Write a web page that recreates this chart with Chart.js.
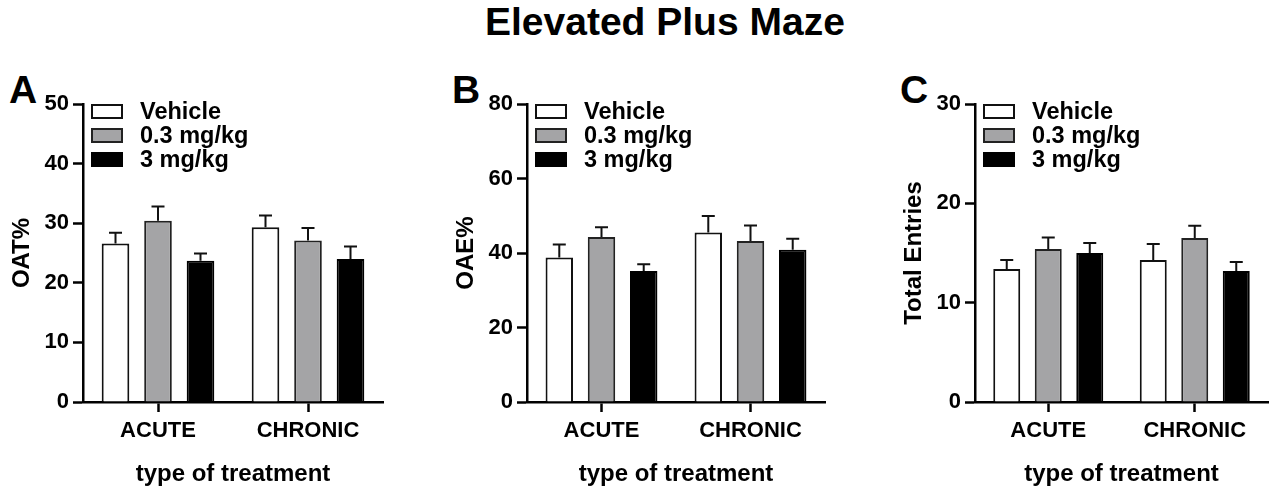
<!DOCTYPE html>
<html>
<head>
<meta charset="utf-8">
<script src="https://cdn.jsdelivr.net/npm/chart.js@4.4.1/dist/chart.umd.min.js"></script>
<style>
  html, body { margin: 0; padding: 0; background: #fff; }
  #wrap { position: relative; width: 1280px; height: 497px; overflow: hidden;
          font-family: "Liberation Sans", Arial, sans-serif; color: #000; }
  canvas { position: absolute; top: 0; }
  .title { position: absolute; left: 485px; top: 2px; font-size: 39px; line-height: 39px;
           font-weight: bold; white-space: nowrap; }
  .panel { position: absolute; top: 70px; font-size: 39px; line-height: 39px; font-weight: bold; }
</style>
</head>
<body>
<div id="wrap">
  <div class="title">Elevated Plus Maze</div>
  <div class="panel" style="left:9px">A</div>
  <div class="panel" style="left:452px">B</div>
  <div class="panel" style="left:900px">C</div>
  <canvas id="chartA" width="430" height="497" style="left:0px"></canvas>
  <canvas id="chartB" width="430" height="497" style="left:430px"></canvas>
  <canvas id="chartC" width="420" height="497" style="left:860px"></canvas>
</div>
<script>
// categories and groups
const categories = ["ACUTE", "CHRONIC"];
const groups = ["Vehicle", "0.3 mg/kg", "3 mg/kg"];

// A - open arm time (%), mean and SEM
const oatVehicle = [26.6, 29.3];
const oatVehicleSem = [1.8, 2.0];
const oatLow = [30.4, 27.1];
const oatLowSem = [2.4, 2.1];
const oatHigh = [23.7, 24.0];
const oatHighSem = [1.2, 2.1];

// B - open arm entries (%)
const oaeVehicle = [38.8, 45.5];
const oaeVehicleSem = [3.5, 4.4];
const oaeLow = [44.3, 43.2];
const oaeLowSem = [2.6, 4.2];
const oaeHigh = [35.2, 40.9];
const oaeHighSem = [1.8, 2.9];

// C - total entries
const totVehicle = [13.4, 14.3];
const totVehicleSem = [0.9, 1.6];
const totLow = [15.4, 16.5];
const totLowSem = [1.15, 1.25];
const totHigh = [15.0, 13.2];
const totHighSem = [1.0, 0.9];

const FONT = '"Liberation Sans", Arial, sans-serif';
const fills = ["#ffffff", "#a4a4a6", "#000000"];
const borders = ["#111111", "#222222", "#000000"];

// draws the upper SEM whisker on top of each bar
const errorBars = {
  id: "errorBars",
  afterDatasetsDraw(chart) {
    const ctx = chart.ctx;
    const yScale = chart.scales.y;
    chart.data.datasets.forEach((ds, i) => {
      chart.getDatasetMeta(i).data.forEach((bar, j) => {
        const top = yScale.getPixelForValue(ds.data[j] + ds.sem[j]);
        ctx.save();
        ctx.strokeStyle = "#111";
        ctx.lineWidth = 2;
        ctx.beginPath();
        ctx.moveTo(bar.x, bar.y);
        ctx.lineTo(bar.x, top);
        ctx.moveTo(bar.x - 6.5, top);
        ctx.lineTo(bar.x + 6.5, top);
        ctx.stroke();
        ctx.restore();
      });
    });
  }
};

// legend inside the plot, top left
const boxLegend = {
  id: "boxLegend",
  afterDraw(chart) {
    const { ctx, chartArea } = chart;
    ctx.save();
    ctx.font = "bold 23.5px " + FONT;
    ctx.textBaseline = "middle";
    chart.data.datasets.forEach((ds, i) => {
      const x = chartArea.left + 8;
      const cy = chartArea.top + 7.5 + i * 24;
      ctx.fillStyle = ds.backgroundColor;
      ctx.fillRect(x, cy - 7.5, 32, 15);
      ctx.strokeStyle = ds.borderColor;
      ctx.lineWidth = 2;
      ctx.strokeRect(x + 1, cy - 6.5, 30, 13);
      ctx.fillStyle = "#000";
      ctx.fillText(ds.label, x + 49, cy + 1);
    });
    ctx.restore();
  }
};

function makeChart(id, series, sems, yTitle, yMax, step, padLeft, padRight) {
  const datasets = groups.map((g, i) => ({
    label: g,
    data: series[i],
    sem: sems[i],
    backgroundColor: fills[i],
    borderColor: borders[i],
    borderWidth: 2,
    barPercentage: 0.65,
    categoryPercentage: 0.85
  }));
  return new Chart(document.getElementById(id), {
    type: "bar",
    data: { labels: categories, datasets },
    plugins: [errorBars, boxLegend],
    options: {
      responsive: false,
      animation: false,
      devicePixelRatio: 1,
      layout: { padding: { top: 104, left: padLeft, right: padRight, bottom: 0 } },
      plugins: { legend: { display: false }, tooltip: { enabled: false } },
      scales: {
        x: {
          grid: { offset: false, drawOnChartArea: false, drawTicks: true, tickLength: 10,
                  tickColor: "#000", tickWidth: 2.5 },
          border: { color: "#000", width: 2.5 },
          ticks: { color: "#000", padding: 6, font: { family: FONT, size: 22, weight: "bold" } },
          title: { display: true, text: "type of treatment", color: "#000",
                   padding: { top: 0, bottom: 8 }, font: { family: FONT, size: 24, weight: "bold" } },
          afterFit: (s) => { s.height = 95; }
        },
        y: {
          min: 0,
          max: yMax,
          grid: { drawOnChartArea: false, drawTicks: true, tickLength: 10,
                  tickColor: "#000", tickWidth: 2.5 },
          border: { color: "#000", width: 2.5 },
          ticks: { stepSize: step, color: "#000", padding: 4,
                   font: { family: FONT, size: 22, weight: "bold" } },
          title: { display: true, text: yTitle, color: "#000", padding: 0,
                   font: { family: FONT, size: 24, weight: "bold" } },
          afterFit: (s) => { s.width = 75; }
        }
      }
    }
  });
}

makeChart("chartA", [oatVehicle, oatLow, oatHigh], [oatVehicleSem, oatLowSem, oatHighSem],
  "OAT%", 50, 10, 8, 47);
makeChart("chartB", [oaeVehicle, oaeLow, oaeHigh], [oaeVehicleSem, oaeLowSem, oaeHighSem],
  "OAE%", 80, 20, 22, 35);
makeChart("chartC", [totVehicle, totLow, totHigh], [totVehicleSem, totLowSem, totHighSem],
  "Total Entries", 30, 10, 40, 12);
</script>
</body>
</html>
